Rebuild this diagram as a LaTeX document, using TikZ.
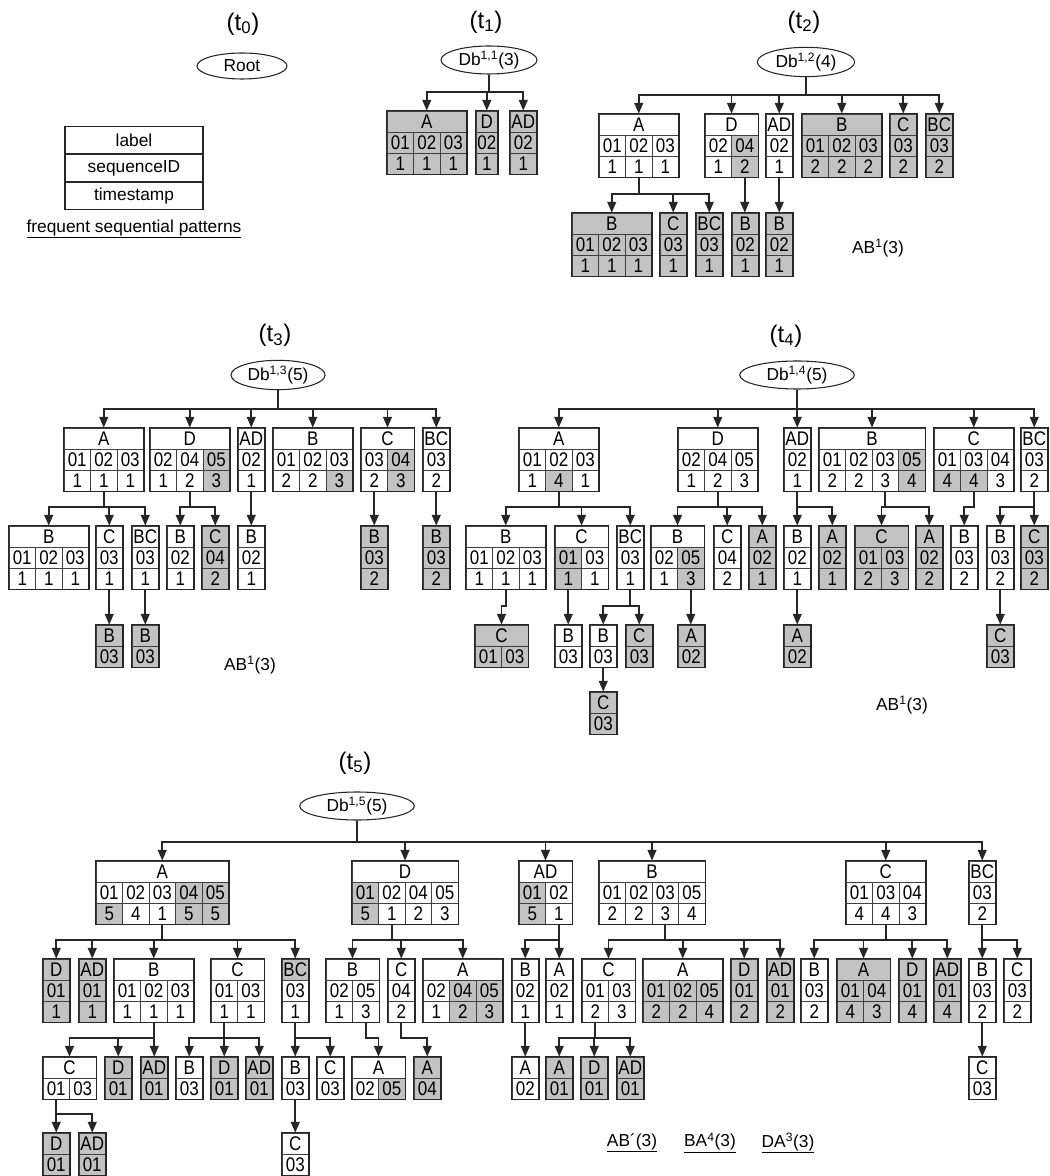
\documentclass[tikz,border=0pt]{standalone}
\usepackage{fontspec}
\setmainfont{Liberation Sans}
\newfontfamily\narrowfont[FakeStretch=0.86]{Liberation Sans}
\usetikzlibrary{arrows.meta,shapes.geometric}

\definecolor{shade}{gray}{0.76}
\newcommand{\boxfont}{\narrowfont\fontsize{14.8}{16}\selectfont}
\newcommand{\notefont}{\fontsize{13}{15}\selectfont}
\newcommand{\titlefont}{\fontsize{18}{21}\selectfont}
\def\nots{-}

% one pattern box: label row, sequenceID row, timestamp row
% cells id/ts/s with s: 0 none, 1 both shaded, 2 timestamp shaded; ts "-" = no row
\newcommand{\seqbox}[6][26.5]{%
  \begin{scope}[shift={#3}]
    \foreach \sid/\sts/\ssh [count=\ci] in {#6} {
      \pgfmathsetmacro{\cx}{(\ci-0.5)*#1}
      \ifcase\ssh\relax \def\fa{white}\def\fb{white}%
      \or \def\fa{shade}\def\fb{shade}%
      \or \def\fa{white}\def\fb{shade}%
      \fi
      \edef\tsval{\sts}%
      \ifx\tsval\nots
        \node[cell, fill=\fa, minimum width=#1*0.75pt] (#2-\ci) at (\cx,31.5) {\sid};
      \else
        \node[cell, fill=\fa, minimum width=#1*0.75pt] (#2-s\ci) at (\cx,31.5) {\sid};
        \node[cell, fill=\fb, minimum width=#1*0.75pt] (#2-\ci) at (\cx,52.5) {\sts};
      \fi
      \xdef\ncells{\ci}
    }
    \node[cell, fill=#5, minimum width=\ncells*#1*0.75pt] (#2) at ({\ncells*#1/2},10.5) {#4};
    \draw[frame] (#2.north west) rectangle (#2-\ncells.south east);
  \end{scope}%
}

\begin{document}
\begin{tikzpicture}[
  x=0.75pt, y=-0.75pt,
  cell/.style={draw=black!75, line width=0.55pt, inner sep=0pt, minimum height=15.75pt, font=\boxfont},
  frame/.style={draw=black!85, line width=1pt},
  db/.style={ellipse, draw=black!85, line width=0.8pt, inner sep=0pt, minimum height=21pt, font=\notefont},
  title/.style={font=\titlefont},
  patt/.style={font=\notefont},
  key/.style={draw=black!85, line width=0.8pt, minimum width=103.5pt, minimum height=20.8pt, inner sep=0pt, font=\notefont},
  link/.style={draw=black!85, line width=1.35pt, -{Triangle[length=8pt,width=6.5pt]}}
]
\useasboundingbox[fill=white] (0,0) rectangle (1049,1176);

% ---- t0 and legend
\node[title] (t0-title) at (243,24) {(t\textsubscript{0})};
\node[db, minimum width=67.5pt, minimum height=19.5pt] (t0-root) at (242,66) {Root};
\node[key] (key-label) at (134,140) {label};
\node[key] (key-seq) at (134,168) {sequenceID};
\node[key] (key-ts) at (134,196) {timestamp};
\node[patt] (key-note) at (134,229) {\underline{frequent sequential patterns}};

% ---- t1
\node[title] (t1-title) at (486,22) {(t\textsubscript{1})};
\node[db, minimum width=72pt] (t1-db) at (489,60) {Db\textsuperscript{1,1}(3)};
\seqbox{t1-A}{(387,111)}{A}{shade}{01/1/1,02/1/1,03/1/1}
\seqbox[21.6]{t1-D}{(476,111)}{D}{shade}{02/1/1}
\seqbox{t1-AD}{(510,111)}{AD}{shade}{02/1/1}
\foreach \c in {t1-A,t1-D,t1-AD}
  \draw[link] (t1-db.south) |- ([yshift=14pt]\c.north) -- (\c.north);

% ---- t2
\node[title] (t2-title) at (804,22) {(t\textsubscript{2})};
\node[db, minimum width=73pt, minimum height=22pt] (t2-db) at (806,62) {Db\textsuperscript{1,2}(4)};
\seqbox{t2-A}{(599,114)}{A}{white}{01/1/0,02/1/0,03/1/0}
\seqbox{t2-D}{(705,114)}{D}{white}{02/1/0,04/2/1}
\seqbox{t2-AD}{(766,114)}{AD}{white}{02/1/0}
\seqbox{t2-B}{(802,114)}{B}{shade}{01/2/1,02/2/1,03/2/1}
\seqbox{t2-C}{(890,114)}{C}{shade}{03/2/1}
\seqbox{t2-BC}{(926,114)}{BC}{shade}{03/2/1}
\seqbox{t2-A-B}{(572,213)}{B}{shade}{01/1/1,02/1/1,03/1/1}
\seqbox{t2-A-C}{(660,213)}{C}{shade}{03/1/1}
\seqbox{t2-A-BC}{(696,213)}{BC}{shade}{03/1/1}
\seqbox{t2-D-B}{(732,213)}{B}{shade}{02/1/1}
\seqbox{t2-AD-B}{(766,213)}{B}{shade}{02/1/1}
\foreach \c in {t2-A,t2-D,t2-AD,t2-B,t2-C,t2-BC}
  \draw[link] (t2-db.south) |- ([yshift=14pt]\c.north) -- (\c.north);
\foreach \c in {t2-A-B,t2-A-C,t2-A-BC}
  \draw[link] (t2-A-2.south) |- ([yshift=14pt]\c.north) -- (\c.north);
\draw[link] (t2-D-2.south) -- (t2-D-2.south |- t2-D-B.north);
\draw[link] (t2-AD-1.south) -- (t2-AD-1.south |- t2-AD-B.north);
\node[patt] (t2-pat) at (878,248) {AB\textsuperscript{1}(3)};

% ---- t3
\node[title] (t3-title) at (275,335) {(t\textsubscript{3})};
\node[db, minimum width=70.5pt, minimum height=22pt] (t3-db) at (278,375) {Db\textsuperscript{1,3}(5)};
\seqbox{t3-A}{(64,428)}{A}{white}{01/1/0,02/1/0,03/1/0}
\seqbox{t3-D}{(150,428)}{D}{white}{02/1/0,04/2/0,05/3/1}
\seqbox{t3-AD}{(238,428)}{AD}{white}{02/1/0}
\seqbox{t3-B}{(273,428)}{B}{white}{01/2/0,02/2/0,03/3/2}
\seqbox{t3-C}{(361,428)}{C}{white}{03/2/0,04/3/1}
\seqbox{t3-BC}{(423,428)}{BC}{white}{03/2/0}
\seqbox{t3-A-B}{(9,526)}{B}{white}{01/1/0,02/1/0,03/1/0}
\seqbox{t3-A-C}{(96,526)}{C}{white}{03/1/0}
\seqbox{t3-A-BC}{(132,526)}{BC}{white}{03/1/0}
\seqbox{t3-D-B}{(167,526)}{B}{white}{02/1/0}
\seqbox{t3-D-C}{(202,526)}{C}{shade}{04/2/1}
\seqbox{t3-AD-B}{(238,526)}{B}{white}{02/1/0}
\seqbox{t3-C-B}{(361,526)}{B}{shade}{03/2/1}
\seqbox{t3-BC-B}{(423,526)}{B}{shade}{03/2/1}
\seqbox{t3-A-C-B}{(96,625)}{B}{shade}{03/-/1}
\seqbox{t3-A-BC-B}{(132,625)}{B}{shade}{03/-/1}
\foreach \c in {t3-A,t3-D,t3-AD,t3-B,t3-C,t3-BC}
  \draw[link] (t3-db.south) |- ([yshift=14pt]\c.north) -- (\c.north);
\foreach \c in {t3-A-B,t3-A-C,t3-A-BC}
  \draw[link] (t3-A-2.south) |- ([yshift=14pt]\c.north) -- (\c.north);
\foreach \c in {t3-D-B,t3-D-C}
  \draw[link] (t3-D-2.south) |- ([yshift=14pt]\c.north) -- (\c.north);
\draw[link] (t3-AD-1.south) -- (t3-AD-1.south |- t3-AD-B.north);
\draw[link] (t3-C-1.south) -- (t3-C-1.south |- t3-C-B.north);
\draw[link] (t3-BC-1.south) -- (t3-BC-1.south |- t3-BC-B.north);
\draw[link] (t3-A-C-1.south) -- (t3-A-C-1.south |- t3-A-C-B.north);
\draw[link] (t3-A-BC-1.south) -- (t3-A-BC-1.south |- t3-A-BC-B.north);
\node[patt] (t3-pat) at (250,665) {AB\textsuperscript{1}(3)};

% ---- t4
\node[title] (t4-title) at (786,336) {(t\textsubscript{4})};
\node[db, minimum width=86pt] (t4-db) at (797,375) {Db\textsuperscript{1,4}(5)};
\seqbox{t4-A}{(519,428)}{A}{white}{01/1/0,02/4/2,03/1/0}
\seqbox{t4-D}{(678,428)}{D}{white}{02/1/0,04/2/0,05/3/0}
\seqbox{t4-AD}{(784,428)}{AD}{white}{02/1/0}
\seqbox{t4-B}{(819,428)}{B}{white}{01/2/0,02/2/0,03/3/0,05/4/1}
\seqbox{t4-C}{(934,428)}{C}{white}{01/4/2,03/4/2,04/3/0}
\seqbox{t4-BC}{(1021,428)}{BC}{white}{03/2/0}
\seqbox{t4-A-B}{(466,526)}{B}{white}{01/1/0,02/1/0,03/1/0}
\seqbox{t4-A-C}{(555,526)}{C}{white}{01/1/1,03/1/0}
\seqbox{t4-A-BC}{(617,526)}{BC}{white}{03/1/0}
\seqbox{t4-D-B}{(651,526)}{B}{white}{02/1/0,05/3/1}
\seqbox{t4-D-C}{(714,526)}{C}{white}{04/2/0}
\seqbox{t4-D-A}{(749,526)}{A}{shade}{02/1/1}
\seqbox{t4-AD-B}{(784,526)}{B}{white}{02/1/0}
\seqbox{t4-AD-A}{(819,526)}{A}{shade}{02/1/1}
\seqbox{t4-B-C}{(855,526)}{C}{shade}{01/2/1,03/3/1}
\seqbox{t4-B-A}{(916,526)}{A}{shade}{02/2/1}
\seqbox{t4-C-B}{(951,526)}{B}{white}{03/2/0}
\seqbox{t4-BC-B}{(987,526)}{B}{white}{03/2/0}
\seqbox{t4-BC-C}{(1021,526)}{C}{shade}{03/2/1}
\seqbox{t4-A-B-C}{(475,625)}{C}{shade}{01/-/1,03/-/1}
\seqbox{t4-A-C-B}{(555,625)}{B}{white}{03/-/0}
\seqbox{t4-A-BC-B}{(590,625)}{B}{white}{03/-/0}
\seqbox{t4-A-BC-C}{(626,625)}{C}{shade}{03/-/1}
\seqbox{t4-D-B-A}{(678,625)}{A}{shade}{02/-/1}
\seqbox{t4-AD-B-A}{(784,625)}{A}{shade}{02/-/1}
\seqbox{t4-BC-B-C}{(987,625)}{C}{shade}{03/-/1}
\seqbox{t4-A-BC-B-C}{(590,692)}{C}{shade}{03/-/1}
\foreach \c in {t4-A,t4-D,t4-AD,t4-B,t4-C,t4-BC}
  \draw[link] (t4-db.south) |- ([yshift=14pt]\c.north) -- (\c.north);
\foreach \c in {t4-A-B,t4-A-C,t4-A-BC}
  \draw[link] (t4-A-2.south) |- ([yshift=14pt]\c.north) -- (\c.north);
\foreach \c in {t4-D-B,t4-D-C,t4-D-A}
  \draw[link] (t4-D-2.south) |- ([yshift=14pt]\c.north) -- (\c.north);
\foreach \c in {t4-AD-B,t4-AD-A}
  \draw[link] (t4-AD-1.south) |- ([yshift=14pt]\c.north) -- (\c.north);
\foreach \c in {t4-B-C,t4-B-A}
  \draw[link] (t4-B-3.south) |- ([yshift=14pt]\c.north) -- (\c.north);
\draw[link] (t4-C-2.south) |- ([yshift=14pt]t4-C-B.north) -- (t4-C-B.north);
\foreach \c in {t4-BC-B,t4-BC-C}
  \draw[link] (t4-BC-1.south) |- ([yshift=14pt]\c.north) -- (\c.north);
\draw[link] (t4-A-B-2.south) |- ([yshift=14pt]t4-A-B-C.north) -- (t4-A-B-C.north);
\draw[link] (t4-A-C-1.south) -- (t4-A-C-1.south |- t4-A-C-B.north);
\foreach \c in {t4-A-BC-B,t4-A-BC-C}
  \draw[link] (t4-A-BC-1.south) |- ([yshift=14pt]\c.north) -- (\c.north);
\draw[link] (t4-D-B-2.south) -- (t4-D-B-2.south |- t4-D-B-A.north);
\draw[link] (t4-AD-B-1.south) -- (t4-AD-B-1.south |- t4-AD-B-A.north);
\draw[link] (t4-BC-B-1.south) -- (t4-BC-B-1.south |- t4-BC-B-C.north);
\draw[link] (t4-A-BC-B-1.south) -- (t4-A-BC-B-1.south |- t4-A-BC-B-C.north);
\node[patt] (t4-pat) at (902,705) {AB\textsuperscript{1}(3)};

% ---- t5
\node[title] (t5-title) at (355,763) {(t\textsubscript{5})};
\node[db, minimum width=86pt] (t5-db) at (357,806) {Db\textsuperscript{1,5}(5)};
\seqbox{t5-A}{(96,861)}{A}{white}{01/5/2,02/4/0,03/1/0,04/5/1,05/5/1}
\seqbox{t5-D}{(352,861)}{D}{white}{01/5/1,02/1/0,04/2/0,05/3/0}
\seqbox{t5-AD}{(519,861)}{AD}{white}{01/5/1,02/1/0}
\seqbox{t5-B}{(599,861)}{B}{white}{01/2/0,02/2/0,03/3/0,05/4/0}
\seqbox{t5-C}{(846,861)}{C}{white}{01/4/0,03/4/0,04/3/0}
\seqbox{t5-BC}{(969,861)}{BC}{white}{03/2/0}
\seqbox{t5-A-D}{(43,959)}{D}{shade}{01/1/1}
\seqbox{t5-A-AD}{(79,959)}{AD}{shade}{01/1/1}
\seqbox{t5-A-B}{(114,959)}{B}{white}{01/1/0,02/1/0,03/1/0}
\seqbox{t5-A-C}{(211,959)}{C}{white}{01/1/0,03/1/0}
\seqbox{t5-A-BC}{(282,959)}{BC}{shade}{03/1/0}
\seqbox{t5-D-B}{(326,959)}{B}{white}{02/1/0,05/3/0}
\seqbox{t5-D-C}{(388,959)}{C}{white}{04/2/0}
\seqbox{t5-D-A}{(423,959)}{A}{white}{02/1/0,04/2/1,05/3/1}
\seqbox{t5-AD-B}{(512,959)}{B}{white}{02/1/0}
\seqbox{t5-AD-A}{(546,959)}{A}{white}{02/1/0}
\seqbox{t5-B-C}{(582,959)}{C}{white}{01/2/0,03/3/0}
\seqbox{t5-B-A}{(643,959)}{A}{white}{01/2/1,02/2/1,05/4/1}
\seqbox{t5-B-D}{(731,959)}{D}{shade}{01/2/1}
\seqbox{t5-B-AD}{(767,959)}{AD}{shade}{01/2/1}
\seqbox{t5-C-B}{(801,959)}{B}{white}{03/2/0}
\seqbox{t5-C-A}{(837,959)}{A}{shade}{01/4/1,04/3/1}
\seqbox{t5-C-D}{(899,959)}{D}{shade}{01/4/1}
\seqbox{t5-C-AD}{(934,959)}{AD}{shade}{01/4/1}
\seqbox{t5-BC-B}{(969,959)}{B}{white}{03/2/0}
\seqbox{t5-BC-C}{(1004,959)}{C}{white}{03/2/0}
\seqbox{t5-A-B-C}{(43,1057)}{C}{white}{01/-/0,03/-/0}
\seqbox{t5-A-B-D}{(105,1057)}{D}{shade}{01/-/1}
\seqbox{t5-A-B-AD}{(141,1057)}{AD}{shade}{01/-/1}
\seqbox{t5-A-C-B}{(176,1057)}{B}{white}{03/-/0}
\seqbox{t5-A-C-D}{(211,1057)}{D}{shade}{01/-/1}
\seqbox{t5-A-C-AD}{(246,1057)}{AD}{shade}{01/-/1}
\seqbox{t5-A-BC-B}{(282,1057)}{B}{white}{03/-/0}
\seqbox{t5-A-BC-C}{(317,1057)}{C}{white}{03/-/0}
\seqbox{t5-D-B-A}{(352,1057)}{A}{white}{02/-/0,05/-/1}
\seqbox{t5-D-C-A}{(414,1057)}{A}{shade}{04/-/1}
\seqbox{t5-AD-B-A}{(512,1057)}{A}{white}{02/-/0}
\seqbox{t5-B-C-A}{(546,1057)}{A}{shade}{01/-/1}
\seqbox{t5-B-C-D}{(581,1057)}{D}{shade}{01/-/1}
\seqbox{t5-B-C-AD}{(617,1057)}{AD}{shade}{01/-/1}
\seqbox{t5-BC-B-C}{(969,1057)}{C}{white}{03/-/0}
\seqbox{t5-A-B-C-D}{(43,1133)}{D}{shade}{01/-/1}
\seqbox{t5-A-B-C-AD}{(79,1133)}{AD}{shade}{01/-/1}
\seqbox{t5-A-BC-B-C}{(282,1133)}{C}{white}{03/-/0}
\foreach \c in {t5-A,t5-D,t5-AD,t5-B,t5-C,t5-BC}
  \draw[link] (t5-db.south) |- ([yshift=14pt]\c.north) -- (\c.north);
\foreach \c in {t5-A-D,t5-A-AD,t5-A-B,t5-A-C,t5-A-BC}
  \draw[link] (t5-A-3.south) |- ([yshift=14pt]\c.north) -- (\c.north);
\foreach \c in {t5-D-B,t5-D-C,t5-D-A}
  \draw[link] (t5-D-2.south) |- ([yshift=14pt]\c.north) -- (\c.north);
\foreach \c in {t5-AD-B,t5-AD-A}
  \draw[link] (t5-AD-2.south) |- ([yshift=14pt]\c.north) -- (\c.north);
\foreach \c in {t5-B-C,t5-B-A,t5-B-D,t5-B-AD}
  \draw[link] (t5-B-3.south) |- ([yshift=14pt]\c.north) -- (\c.north);
\foreach \c in {t5-C-B,t5-C-A,t5-C-D,t5-C-AD}
  \draw[link] (t5-C-2.south) |- ([yshift=14pt]\c.north) -- (\c.north);
\foreach \c in {t5-BC-B,t5-BC-C}
  \draw[link] (t5-BC-1.south) |- ([yshift=14pt]\c.north) -- (\c.north);
\foreach \c in {t5-A-B-C,t5-A-B-D,t5-A-B-AD}
  \draw[link] (t5-A-B-2.south) |- ([yshift=14pt]\c.north) -- (\c.north);
\foreach \c in {t5-A-C-B,t5-A-C-D,t5-A-C-AD}
  \draw[link] (t5-A-C-1.south) |- ([yshift=14pt]\c.north) -- (\c.north);
\foreach \c in {t5-A-BC-B,t5-A-BC-C}
  \draw[link] (t5-A-BC-1.south) |- ([yshift=14pt]\c.north) -- (\c.north);
\draw[link] (t5-D-B-2.south) |- ([yshift=14pt]t5-D-B-A.north) -- (t5-D-B-A.north);
\draw[link] (t5-D-C-1.south) |- ([yshift=14pt]t5-D-C-A.north) -- (t5-D-C-A.north);
\draw[link] (t5-AD-B-1.south) -- (t5-AD-B-1.south |- t5-AD-B-A.north);
\foreach \c in {t5-B-C-A,t5-B-C-D,t5-B-C-AD}
  \draw[link] (t5-B-C-1.south) |- ([yshift=14pt]\c.north) -- (\c.north);
\draw[link] (t5-BC-B-1.south) -- (t5-BC-B-1.south |- t5-BC-B-C.north);
\foreach \c in {t5-A-B-C-D,t5-A-B-C-AD}
  \draw[link] (t5-A-B-C-1.south) |- ([yshift=14pt]\c.north) -- (\c.north);
\draw[link] (t5-A-BC-B-1.south) -- (t5-A-BC-B-1.south |- t5-A-BC-B-C.north);
\node[patt] (t5-pat1) at (632,1143) {\underline{AB´(3)}};
\node[patt] (t5-pat2) at (710,1143) {\underline{BA\textsuperscript{4}(3)}};
\node[patt] (t5-pat3) at (788,1143) {\underline{DA\textsuperscript{3}(3)}};
\end{tikzpicture}
\end{document}
